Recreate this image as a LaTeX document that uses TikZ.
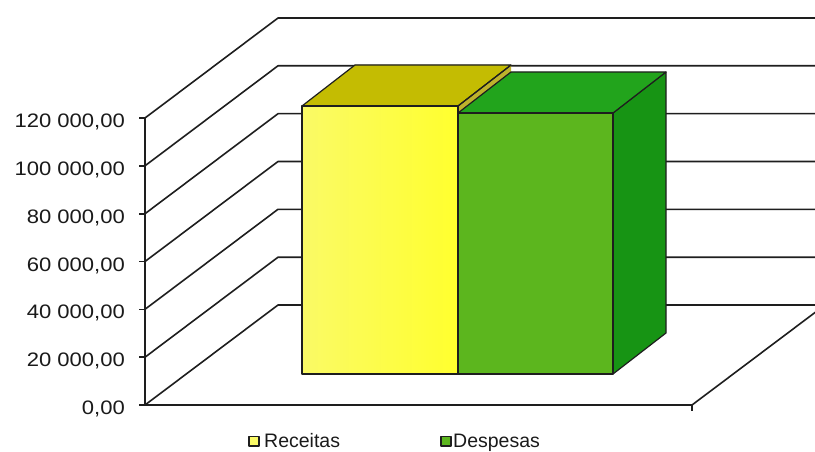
\documentclass[tikz,border=0pt]{standalone}
\usepackage{fontspec}
\setmainfont{Liberation Sans}
\newfontfamily\axisfont{Liberation Sans}[FakeStretch=1.13]
\definecolor{gridline}{HTML}{1E1E1E}
\definecolor{recfront}{HTML}{FFFF2E}
\definecolor{reclight}{HTML}{FAFA66}
\definecolor{rectop}{HTML}{C4BC02}
\definecolor{recside}{HTML}{BDB22C}
\definecolor{desfront}{HTML}{5CB61E}
\definecolor{destop}{HTML}{22A41C}
\definecolor{desside}{HTML}{179414}
\definecolor{labeltext}{HTML}{1A1A1A}

\begin{document}
\begin{tikzpicture}[x=1pt,y=-1pt,line join=round,
    axislabel/.style={anchor=base east,inner sep=0pt,text=labeltext,font=\axisfont\fontsize{19.5}{21}\selectfont},
    legendlabel/.style={anchor=base west,inner sep=0pt,text=labeltext,font=\fontsize{19.5}{21}\selectfont}]
    \useasboundingbox (0,0) rectangle (815,452);
    \fill [white] (0,0) rectangle (815,452);
    \clip (0,0) rectangle (815,452);

    % back wall and left wall
    \draw [gridline,line width=1.6pt] (145,405) -- (278,305) -- (815,305);
    \draw [gridline,line width=1.6pt] (145,357.2) -- (278,257.2) -- (815,257.2);
    \draw [gridline,line width=1.6pt] (145,309.3) -- (278,209.3) -- (815,209.3);
    \draw [gridline,line width=1.6pt] (145,261.5) -- (278,161.5) -- (815,161.5);
    \draw [gridline,line width=1.6pt] (145,213.7) -- (278,113.7) -- (815,113.7);
    \draw [gridline,line width=1.6pt] (145,165.8) -- (278,65.8) -- (815,65.8);
    \draw [gridline,line width=1.6pt] (145,118) -- (278,18) -- (815,18);

    % floor
    \draw [gridline,line width=1.6pt] (145,405) -- (692,405) -- (825,305);

    % Receitas
    \fill [recside] (458,106) -- (511,65) -- (511,333) -- (458,374) -- cycle;
    \filldraw [fill=rectop,draw=gridline,line width=1.2pt] (302,106) -- (458,106) -- (511,65) -- (355,65) -- cycle;
    \shade [left color=reclight,right color=recfront] (302,106) rectangle (458,374);
    \draw [gridline,line width=1.2pt] (302,106) rectangle (458,374);
    \draw [gridline,line width=1.2pt] (458,106) -- (511,65);

    % Despesas
    \filldraw [fill=desside,draw=gridline,line width=1.2pt] (613,113) -- (666,72) -- (666,333) -- (613,374) -- cycle;
    \filldraw [fill=destop,draw=gridline,line width=1.2pt] (458,113) -- (613,113) -- (666,72) -- (511,72) -- cycle;
    \filldraw [fill=desfront,draw=gridline,line width=1.2pt] (458,113) rectangle (613,374);

    % axes
    \draw [gridline,line width=1.6pt] (145,405) -- (145,118);
    \draw [gridline,line width=1.6pt] (139,405) -- (145,405);
    \draw [gridline,line width=1.6pt] (139,357.2) -- (145,357.2);
    \draw [gridline,line width=1.6pt] (139,309.3) -- (145,309.3);
    \draw [gridline,line width=1.6pt] (139,261.5) -- (145,261.5);
    \draw [gridline,line width=1.6pt] (139,213.7) -- (145,213.7);
    \draw [gridline,line width=1.6pt] (139,165.8) -- (145,165.8);
    \draw [gridline,line width=1.6pt] (139,118) -- (145,118);
    \draw [gridline,line width=1.6pt] (692,405) -- (692,411);

    \node [axislabel] (lbl0) at (125,414.5) {0,00};
    \node [axislabel] (lbl1) at (125,366.7) {20 000,00};
    \node [axislabel] (lbl2) at (125,318.8) {40 000,00};
    \node [axislabel] (lbl3) at (125,271) {60 000,00};
    \node [axislabel] (lbl4) at (125,223.2) {80 000,00};
    \node [axislabel] (lbl5) at (125,175.3) {100 000,00};
    \node [axislabel] (lbl6) at (125,127.5) {120 000,00};

    % legend
    \filldraw [fill=reclight,draw=gridline,line width=1.4pt] (249,436.5) rectangle (259,446);
    \node [legendlabel] (legrec) at (264,447.5) {Receitas};
    \filldraw [fill=desfront,draw=gridline,line width=1.4pt] (441,436.5) rectangle (451,446);
    \node [legendlabel] (legdes) at (453,447.5) {Despesas};
  \end{tikzpicture}
\end{document}
